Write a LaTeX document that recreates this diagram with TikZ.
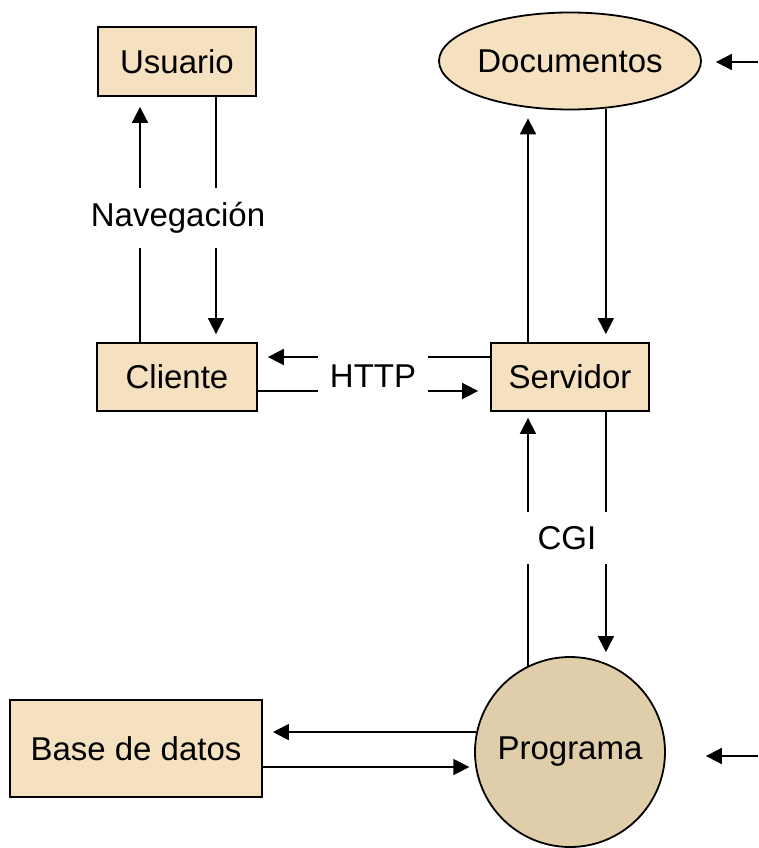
\documentclass[tikz,border=0pt]{standalone}
\usepackage{fontspec}
\setmainfont{Liberation Sans}
\usetikzlibrary{arrows.meta,shapes.geometric}

\definecolor{caja}{RGB}{245,225,192}
\definecolor{proceso}{RGB}{224,205,170}

\begin{document}
\begin{tikzpicture}[x=1pt,y=-1pt,line width=1.8pt,
		font=\fontsize{33}{40}\selectfont,
		>={Triangle[length=16pt,width=16pt]},
		caja/.style={draw,fill=caja,inner sep=0pt},
		etiqueta/.style={fill=white,inner xsep=10pt,inner ysep=14pt}]
	\useasboundingbox (0,0) rectangle (758,848);
	
	% Nodos
	\node[caja,minimum width=158pt,minimum height=69pt] (usuario) at (177,61.5) {Usuario};
	\node[caja,ellipse,minimum width=254pt,minimum height=97pt] (documentos) at (570,61) {Documentos};
	\node[caja,minimum width=160pt,minimum height=68pt] (cliente) at (177,377) {Cliente};
	\node[caja,minimum width=158pt,minimum height=68pt] (servidor) at (570,377) {Servidor};
	\node[caja,minimum width=252pt,minimum height=97pt] (basedatos) at (136,748.5) {Base de datos};
	\node[draw,fill=proceso,circle,minimum size=190pt,inner sep=0pt] (programa) at (570,752) {Programa};
	
	\coordinate (docsin) at (758,62);
	\coordinate (progin) at (758,756);
	
	% Cliente <-> Usuario
	\draw[->,shorten >=10pt] ([xshift=-37pt]cliente.north) -- ([xshift=-37pt]usuario.south);
	\draw[->,shorten >=8pt] ([xshift=39pt]usuario.south) -- ([xshift=39pt]cliente.north);
	
	% Servidor <-> Documentos
	\draw[->,shorten >=8pt] ([xshift=-42pt]servidor.north) -- ([xshift=-42pt]documentos.south);
	\draw[->,shorten >=8pt] (documentos.307) -- (documentos.307 |- servidor.north);
	
	% Cliente <-> Servidor
	\draw[->,shorten >=10pt] ([yshift=20pt]servidor.west) -- ([yshift=20pt]cliente.east);
	\draw[->,shorten >=12pt] ([yshift=-14pt]cliente.east) -- ([yshift=-14pt]servidor.west);
	
	% Servidor <-> Programa
	\draw[->,shorten >=6pt] (programa.116) -- (programa.116 |- servidor.south);
	\draw[->,shorten >=11pt] (programa.68 |- servidor.south) -- (programa.68);
	
	% Programa <-> Base de datos
	\draw[->,shorten >=10pt] (programa.168.5) -- (programa.168.5 -| basedatos.east);
	\draw[->,shorten >=6pt] (programa.189 -| basedatos.east) -- (programa.189);
	
	% Entradas desde la derecha
	\draw[->,shorten >=14pt] (docsin) -- (docsin -| documentos.east);
	\draw[->,shorten >=40pt] (progin) -- (progin -| programa.east);
	
	\node[etiqueta] (nav) at (178,218) {Navegación};
	\node[etiqueta,inner xsep=12pt] (http) at (373,376) {HTTP};
	\node[etiqueta,inner xsep=17pt] (cgi) at (567,538) {CGI};
\end{tikzpicture}
\end{document}
